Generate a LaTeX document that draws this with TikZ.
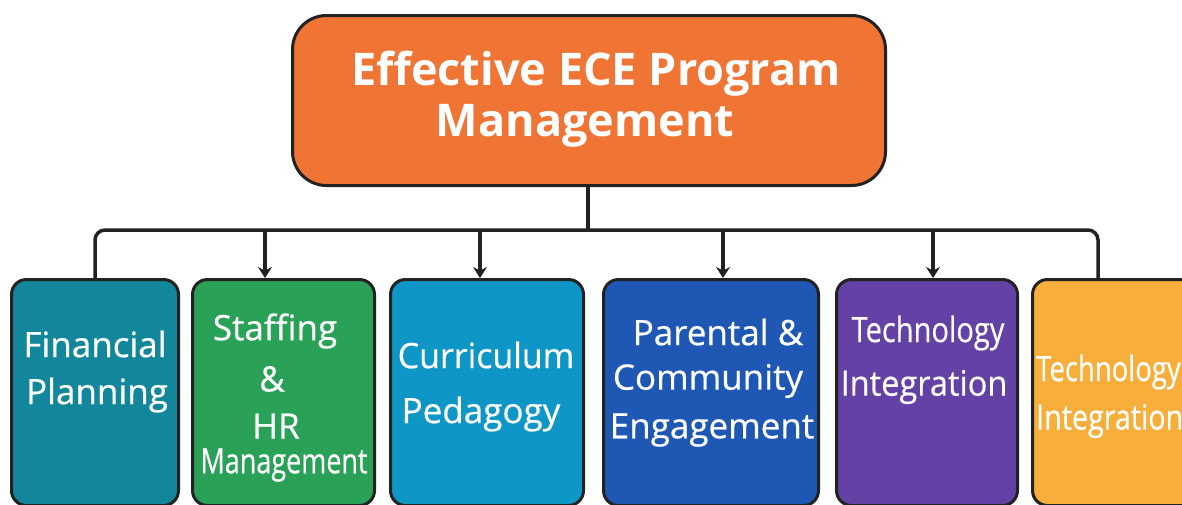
\documentclass[tikz,border=0pt]{standalone}
\usepackage{fontspec}
\setmainfont{Open Sans}
\newfontfamily\lblfont[FakeBold=0.5]{Open Sans}
\usetikzlibrary{arrows.meta,calc}
\definecolor{topc}{HTML}{F07434}
\definecolor{c1}{HTML}{12869B}
\definecolor{c2}{HTML}{29A157}
\definecolor{c3}{HTML}{0E96C6}
\definecolor{c4}{HTML}{1F57B5}
\definecolor{c5}{HTML}{6441A5}
\definecolor{c6}{HTML}{F8AE3B}
\definecolor{ln}{HTML}{222222}
\tikzset{
  box/.style={draw=ln, line width=3pt, rounded corners=15pt, anchor=north west, inner sep=0pt},
  conn/.style={draw=ln, line width=3.5pt, rounded corners=10pt},
  arr/.style={draw=ln, line width=3.5pt, -{Stealth[length=11pt,width=14pt]}},
  lbl/.style={text=white, font=\lblfont\fontsize{35}{38}\selectfont, inner sep=0pt},
  toplbl/.style={text=white, font=\fontsize{45}{48}\selectfont\bfseries, inner sep=0pt},
}
\newcommand{\sx}[2]{\scalebox{#1}[1]{#2}}
\begin{document}
\begin{tikzpicture}[x=1pt,y=-1pt]
\useasboundingbox[fill=white] (0,0) rectangle (1182,504);
% top box
\node[box, fill=topc, rounded corners=34pt, minimum width=593pt, minimum height=170pt] (top) at (291,14) {};
\node[toplbl] (tt1) at (596,74) {Effective ECE Program};
\node[toplbl] (tt2) at (585,126) {Management};
% child boxes
\node[box, fill=c1, minimum width=167pt, minimum height=226pt] (b1) at (10,278) {};
\node[box, fill=c2, minimum width=182pt, minimum height=226pt] (b2) at (191,278) {};
\node[box, fill=c3, minimum width=193pt, minimum height=226pt] (b3) at (389,278) {};
\node[box, fill=c4, minimum width=215pt, minimum height=226pt] (b4) at (602,278) {};
\node[box, fill=c5, minimum width=181pt, minimum height=226pt] (b5) at (835,278) {};
\node[box, fill=c6, minimum width=175pt, minimum height=226pt] (b6) at (1031,278) {};
% labels
\node[lbl] (l1a) at (95,344) {Financial};
\node[lbl] (l1b) at (97,395) {Planning};
\node[lbl] (l2a) at (275,331) {Staffing};
\node[lbl] (l2b) at (272,379) {\&};
\node[lbl] (l2c) at (276,426) {HR};
\node[lbl] (l2d) at (284,465) {\sx{0.77}{Management}};
\node[lbl] (l3a) at (486,355) {\sx{0.97}{Curriculum}};
\node[lbl] (l3b) at (481,414) {Pedagogy};
\node[lbl] (l4a) at (718,332) {Parental \&};
\node[lbl] (l4b) at (708,381) {Community};
\node[lbl] (l4c) at (712,430) {Engagement};
\node[lbl] (l5a) at (928,333) {\sx{0.83}{Technology}};
\node[lbl] (l5b) at (924,387) {\sx{0.93}{Integration}};
\node[lbl, anchor=west] (l6a) at (1036,372) {\sx{0.785}{Technology}};
\node[lbl, anchor=west] (l6b) at (1036,421) {\sx{0.82}{Integration}};
% connectors
\coordinate (bus) at (588,230);
\coordinate (busR) at (1098,230);
\coordinate (c6) at (1098,278);
\coordinate (a2) at (265,278);
\coordinate (a3) at (480,278);
\coordinate (a4) at (723,278);
\coordinate (a5) at (933,278);
\draw[conn] (top.south -| bus) -- (bus);
\draw[conn] (b1.north -| 95,0) |- (busR) -- (c6);
\draw[arr] (a2 |- bus) -- (a2);
\draw[arr] (a3 |- bus) -- (a3);
\draw[arr] (a4 |- bus) -- (a4);
\draw[arr] (a5 |- bus) -- (a5);
\end{tikzpicture}
\end{document}
